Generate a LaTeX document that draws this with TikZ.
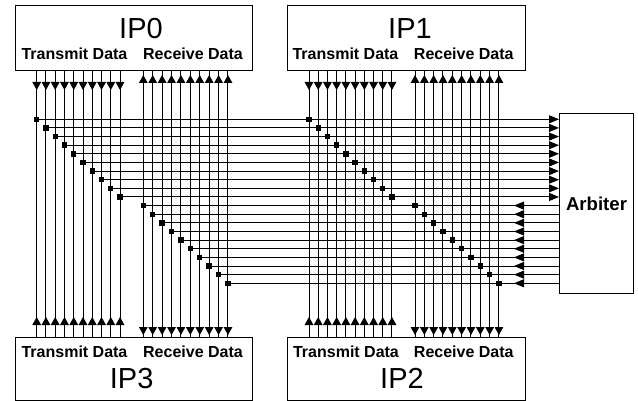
\documentclass[tikz,border=0pt]{standalone}
\usepackage{fontspec}
\setmainfont{Liberation Sans}
\usetikzlibrary{arrows.meta}
\begin{document}
\begin{tikzpicture}[x=1pt,y=-1pt,
  ipbox/.style={draw, line width=1pt, inner sep=0pt, anchor=north west},
  bus/.style={line width=1pt},
  vtip/.style={bus, -{Triangle[length=8pt,width=8.6pt]}},
  htip/.style={bus, -{Triangle[length=10pt,width=8pt]}},
  tap/.style={fill, draw=none, inner sep=0pt, minimum size=5.4pt},
  iplabel/.style={font=\fontsize{29}{30}\selectfont, anchor=base, inner sep=0pt},
  portlabel/.style={font=\bfseries\fontsize{16}{17}\selectfont, anchor=base, inner sep=0pt}]

\useasboundingbox (0,0) rectangle (638,401);

% IP blocks and the arbiter
\node[ipbox, minimum width=237pt, minimum height=65pt] (ip0) at (15,5) {};
\node[ipbox, minimum width=238pt, minimum height=65pt] (ip1) at (287,5) {};
\node[ipbox, minimum width=237pt, minimum height=63pt] (ip3) at (15,337) {};
\node[ipbox, minimum width=238pt, minimum height=63pt] (ip2) at (287,337) {};
\node[ipbox, minimum width=74pt, minimum height=180pt,
      font=\bfseries\fontsize{18.6}{20}\selectfont] (arb) at (559,113) {Arbiter};

% block titles and port labels
\node[iplabel] (n0) at (141,38.3) {IP0};
\node[iplabel] (n1) at (410,38.3) {IP1};
\node[iplabel] (n3) at (131.7,388.3) {IP3};
\node[iplabel] (n2) at (402,388.3) {IP2};
\node[portlabel] (tx0) at (74.5,59.5) {Transmit Data};
\node[portlabel] (rx0) at (193,59.5) {Receive Data};
\node[portlabel] (tx1) at (345.5,59.5) {Transmit Data};
\node[portlabel] (rx1) at (463.8,59.5) {Receive Data};
\node[portlabel] (tx3) at (74.5,357.5) {Transmit Data};
\node[portlabel] (rx3) at (193,357.5) {Receive Data};
\node[portlabel] (tx2) at (346,357.5) {Transmit Data};
\node[portlabel] (rx2) at (463.8,357.5) {Receive Data};

% vertical data lines between the upper and lower blocks
\foreach \i in {0,...,9} {
  \pgfmathsetmacro\xa{36.7+9.26*\i-15}
  \pgfmathsetmacro\xb{143.3+9.41*\i-15}
  \pgfmathsetmacro\xc{309+9.22*\i-287}
  \pgfmathsetmacro\xd{415+9.33*\i-287}
  \path (ip0.south west) ++(\xa,0) coordinate (ta\i);
  \path (ip0.south west) ++(\xb,0) coordinate (ra\i);
  \path (ip1.south west) ++(\xc,0) coordinate (tb\i);
  \path (ip1.south west) ++(\xd,0) coordinate (rb\i);
  \foreach \c in {ta\i,ra\i,tb\i,rb\i} {
    \draw[bus] (\c) -- (\c |- ip3.north);
  }
  % transmit lines: out of the upper block, into the lower block
  \foreach \c in {ta\i,tb\i} {
    \draw[vtip] (\c) -- ++(0,19);
    \draw[vtip] (\c |- ip3.north) -- ++(0,-20);
  }
  % receive lines: into the upper block, into the lower block
  \foreach \c in {ra\i,rb\i} {
    \draw[vtip] (\c) ++(0,13) -- ++(0,-9);
    \draw[vtip] (\c |- ip3.north) ++(0,-13) -- ++(0,11);
  }
}

% request rows: transmit taps to the arbiter
\foreach \k in {0,...,9} {
  \pgfmathsetmacro\y{119.3+8.63*\k}
  \pgfmathsetmacro\xa{36.7+9.26*\k}
  \pgfmathsetmacro\xb{309+9.22*\k}
  \node[tap] (pa\k) at (\xa,\y) {};
  \node[tap] (pb\k) at (\xb,\y) {};
  \draw[htip] (pa\k.center) -- (pa\k -| arb.west);
  \node[tap] at (pa\k) {};
  \node[tap] at (pb\k) {};
}

% grant rows: arbiter back to the receive taps
\foreach \j in {0,...,9} {
  \pgfmathsetmacro\y{119.3+8.63*(\j+10)}
  \pgfmathsetmacro\xa{143.3+9.41*\j}
  \pgfmathsetmacro\xb{415+9.33*\j}
  \node[tap] (qa\j) at (\xa,\y) {};
  \node[tap] (qb\j) at (\xb,\y) {};
  \draw[bus] (qa\j -| arb.west) -- (qa\j.center);
  \draw[htip] (qa\j -| arb.west) -- ++(-45,0);
  \node[tap] at (qa\j) {};
  \node[tap] at (qb\j) {};
}
\end{tikzpicture}
\end{document}
